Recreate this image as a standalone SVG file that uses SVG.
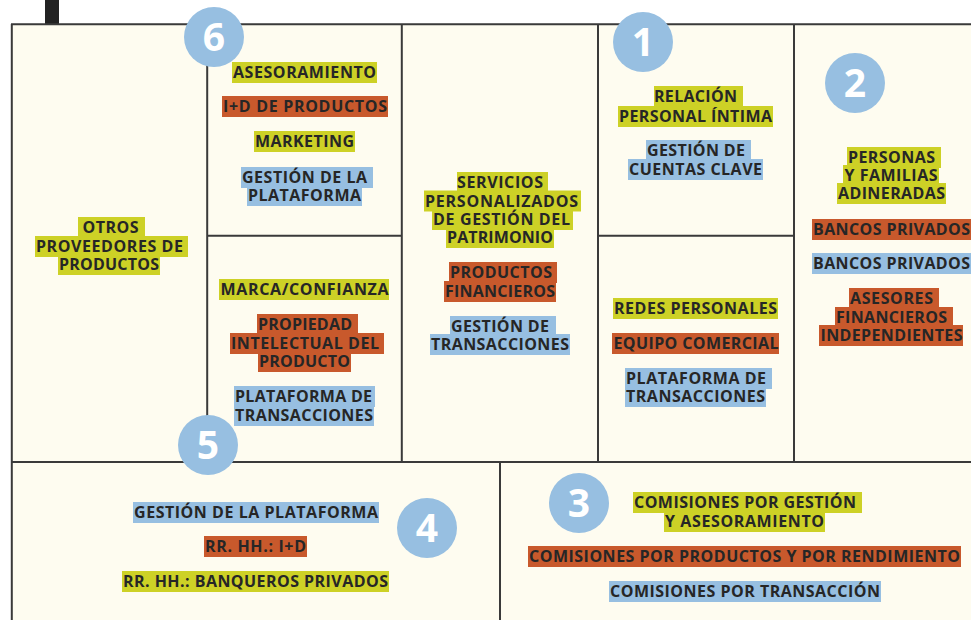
<svg xmlns="http://www.w3.org/2000/svg" width="971" height="620" viewBox="0 0 971 620">
<style>
.y{fill:#CDD126}.o{fill:#C8592C}.b{fill:#97BFE1}
.t{font-family:"Open Sans","Liberation Sans",sans-serif;font-weight:700;font-size:16px;fill:#262626;text-anchor:middle}
.ln{stroke:#3a3a3a;stroke-width:2;fill:none}
.c{fill:#97BFE1}
.n{font-family:"Open Sans","Liberation Sans",sans-serif;font-weight:700;font-size:39px;fill:#ffffff;text-anchor:middle}
</style>
<rect x="0" y="0" width="971" height="620" fill="#ffffff"/>
<rect x="12" y="24" width="959" height="596" fill="#FEFCF0"/>
<rect x="45" y="0" width="14" height="24" fill="#222222"/>
<g id="grid">
<path class="ln" d="M11 24.3H971M11.8 24V620M207.2 24V462M401.8 24V462M598 24V462M794 24V462M207 235.8H402M598 235.8H794M11 462H971M500 462V620"/>
</g>
<g id="actividades-clave">
<rect class="y" x="232" y="62" width="145" height="21"/><text class="t" x="304.5" y="78" textLength="143" lengthAdjust="spacing">ASESORAMIENTO</text>
<rect class="o" x="222" y="96" width="166" height="21"/><text class="t" x="305" y="112" textLength="164" lengthAdjust="spacing">I+D DE PRODUCTOS</text>
<rect class="y" x="254" y="131" width="101" height="21"/><text class="t" x="304.5" y="147" textLength="99" lengthAdjust="spacing">MARKETING</text>
<rect class="b" x="241" y="167" width="132" height="21"/><rect class="b" x="247" y="185" width="115" height="21"/>
<text class="t"><tspan x="304.5" y="183" textLength="125" lengthAdjust="spacing">GESTIÓN DE LA</tspan><tspan x="304.5" y="201" textLength="113" lengthAdjust="spacing">PLATAFORMA</tspan></text>
</g>
<g id="socios-clave">
<rect class="y" x="78" y="217" width="67" height="21"/><rect class="y" x="35" y="236" width="153" height="21"/><rect class="y" x="58" y="254" width="102" height="21"/>
<text class="t"><tspan x="110.5" y="233" textLength="56" lengthAdjust="spacing">OTROS</tspan><tspan x="109.5" y="252" textLength="147" lengthAdjust="spacing">PROVEEDORES DE</tspan><tspan x="109" y="270" textLength="100" lengthAdjust="spacing">PRODUCTOS</tspan></text>
</g>
<g id="recursos-clave">
<rect class="y" x="219" y="279" width="170" height="21"/><text class="t" x="304.5" y="295" textLength="168" lengthAdjust="spacing">MARCA/CONFIANZA</text>
<rect class="o" x="257" y="314" width="101" height="21"/><rect class="o" x="230" y="333" width="154" height="21"/><rect class="o" x="258" y="351" width="93" height="21"/>
<text class="t"><tspan x="305" y="330" textLength="94" lengthAdjust="spacing">PROPIEDAD</tspan><tspan x="305" y="349" textLength="148" lengthAdjust="spacing">INTELECTUAL DEL</tspan><tspan x="304.5" y="367" textLength="91" lengthAdjust="spacing">PRODUCTO</tspan></text>
<rect class="b" x="234" y="386" width="141" height="21"/><rect class="b" x="234" y="405" width="140" height="21"/>
<text class="t"><tspan x="303.5" y="402" textLength="137" lengthAdjust="spacing">PLATAFORMA DE</tspan><tspan x="304" y="421" textLength="138" lengthAdjust="spacing">TRANSACCIONES</tspan></text>
</g>
<g id="propuesta-valor">
<rect class="y" x="457" y="172" width="91" height="21"/><rect class="y" x="424" y="190.5" width="157" height="21"/><rect class="y" x="432" y="209" width="141" height="21"/><rect class="y" x="446" y="227" width="108" height="21"/>
<text class="t"><tspan x="500" y="188" textLength="86" lengthAdjust="spacing">SERVICIOS</tspan><tspan x="501.5" y="206.5" textLength="153" lengthAdjust="spacing">PERSONALIZADOS</tspan><tspan x="501.5" y="225" textLength="137" lengthAdjust="spacing">DE GESTIÓN DEL</tspan><tspan x="500" y="243" textLength="106" lengthAdjust="spacing">PATRIMONIO</tspan></text>
<rect class="o" x="449" y="262" width="108" height="21"/><rect class="o" x="444" y="281" width="112" height="21"/>
<text class="t"><tspan x="501" y="278" textLength="102" lengthAdjust="spacing">PRODUCTOS</tspan><tspan x="500" y="297" textLength="110" lengthAdjust="spacing">FINANCIEROS</tspan></text>
<rect class="b" x="450" y="316" width="106" height="21"/><rect class="b" x="430" y="334" width="140" height="21"/>
<text class="t"><tspan x="500" y="332" textLength="98" lengthAdjust="spacing">GESTIÓN DE</tspan><tspan x="500" y="350" textLength="138" lengthAdjust="spacing">TRANSACCIONES</tspan></text>
</g>
<g id="relaciones">
<rect class="y" x="654" y="86" width="89" height="21"/><rect class="y" x="618" y="106" width="155" height="21"/>
<text class="t"><tspan x="695.5" y="102" textLength="83" lengthAdjust="spacing">RELACIÓN</tspan><tspan x="695.5" y="122" textLength="153" lengthAdjust="spacing">PERSONAL ÍNTIMA</tspan></text>
<rect class="b" x="646" y="140" width="105" height="21"/><rect class="b" x="628" y="159" width="135" height="21"/>
<text class="t"><tspan x="696" y="156" textLength="98" lengthAdjust="spacing">GESTIÓN DE</tspan><tspan x="695.5" y="175" textLength="133" lengthAdjust="spacing">CUENTAS CLAVE</tspan></text>
</g>
<g id="canales">
<rect class="y" x="613" y="298" width="165" height="21"/><text class="t" x="695.5" y="314" textLength="163" lengthAdjust="spacing">REDES PERSONALES</text>
<rect class="o" x="612" y="333" width="167" height="21"/><text class="t" x="696" y="349" textLength="165" lengthAdjust="spacing">EQUIPO COMERCIAL</text>
<rect class="b" x="625" y="368" width="147" height="21"/><rect class="b" x="625" y="386" width="141" height="21"/>
<text class="t"><tspan x="696" y="384" textLength="140" lengthAdjust="spacing">PLATAFORMA DE</tspan><tspan x="695.5" y="402" textLength="139" lengthAdjust="spacing">TRANSACCIONES</tspan></text>
</g>
<g id="segmentos">
<rect class="y" x="847" y="147" width="94" height="21"/><rect class="y" x="843" y="165" width="96" height="21"/><rect class="y" x="837" y="183" width="109" height="21"/>
<text class="t"><tspan x="891.5" y="163" textLength="87" lengthAdjust="spacing">PERSONAS</tspan><tspan x="891" y="181" textLength="93" lengthAdjust="spacing">Y FAMILIAS</tspan><tspan x="891.5" y="199" textLength="107" lengthAdjust="spacing">ADINERADAS</tspan></text>
<rect class="o" x="812" y="219" width="160" height="21"/><text class="t" x="891.5" y="235" textLength="157" lengthAdjust="spacing">BANCOS PRIVADOS</text>
<rect class="b" x="812" y="253" width="160" height="21"/><text class="t" x="891.5" y="269" textLength="157" lengthAdjust="spacing">BANCOS PRIVADOS</text>
<rect class="o" x="849" y="288" width="90" height="21"/><rect class="o" x="835" y="307" width="118" height="21"/><rect class="o" x="819" y="325" width="144" height="21"/>
<text class="t"><tspan x="891.5" y="304" textLength="83" lengthAdjust="spacing">ASESORES</tspan><tspan x="891.5" y="323" textLength="111" lengthAdjust="spacing">FINANCIEROS</tspan><tspan x="891.5" y="341" textLength="142" lengthAdjust="spacing">INDEPENDIENTES</tspan></text>
</g>
<g id="costes">
<rect class="b" x="133" y="502" width="246" height="21"/><text class="t" x="256" y="518" textLength="244" lengthAdjust="spacing">GESTIÓN DE LA PLATAFORMA</text>
<rect class="o" x="204" y="536" width="103" height="21"/><text class="t" x="255.5" y="552" textLength="101" lengthAdjust="spacing">RR. HH.: I+D</text>
<rect class="y" x="122" y="571" width="267" height="21"/><text class="t" x="255.5" y="587" textLength="265" lengthAdjust="spacing">RR. HH.: BANQUEROS PRIVADOS</text>
</g>
<g id="ingresos">
<rect class="y" x="633" y="492" width="229" height="21"/><rect class="y" x="664" y="511" width="161" height="21"/>
<text class="t"><tspan x="745" y="508" textLength="222" lengthAdjust="spacing">COMISIONES POR GESTIÓN</tspan><tspan x="744.5" y="527" textLength="159" lengthAdjust="spacing">Y ASESORAMIENTO</tspan></text>
<rect class="o" x="528" y="546" width="433" height="21"/><text class="t" x="744.5" y="562" textLength="431" lengthAdjust="spacing">COMISIONES POR PRODUCTOS Y POR RENDIMIENTO</text>
<rect class="b" x="609" y="581" width="272" height="21"/><text class="t" x="745" y="597" textLength="270" lengthAdjust="spacing">COMISIONES POR TRANSACCIÓN</text>
</g>
<g id="marcadores">
<g id="m6"><circle class="c" cx="214" cy="37" r="30"/><text class="n" x="214" y="51">6</text></g>
<g id="m1"><circle class="c" cx="643" cy="42" r="30"/><text class="n" x="643" y="56">1</text></g>
<g id="m2"><circle class="c" cx="855" cy="83" r="30"/><text class="n" x="855" y="97">2</text></g>
<g id="m5"><circle class="c" cx="208" cy="445" r="30"/><text class="n" x="208" y="459">5</text></g>
<g id="m4"><circle class="c" cx="427" cy="528" r="30"/><text class="n" x="427" y="542">4</text></g>
<g id="m3"><circle class="c" cx="579" cy="503" r="30"/><text class="n" x="579" y="517">3</text></g>
</g>
</svg>
